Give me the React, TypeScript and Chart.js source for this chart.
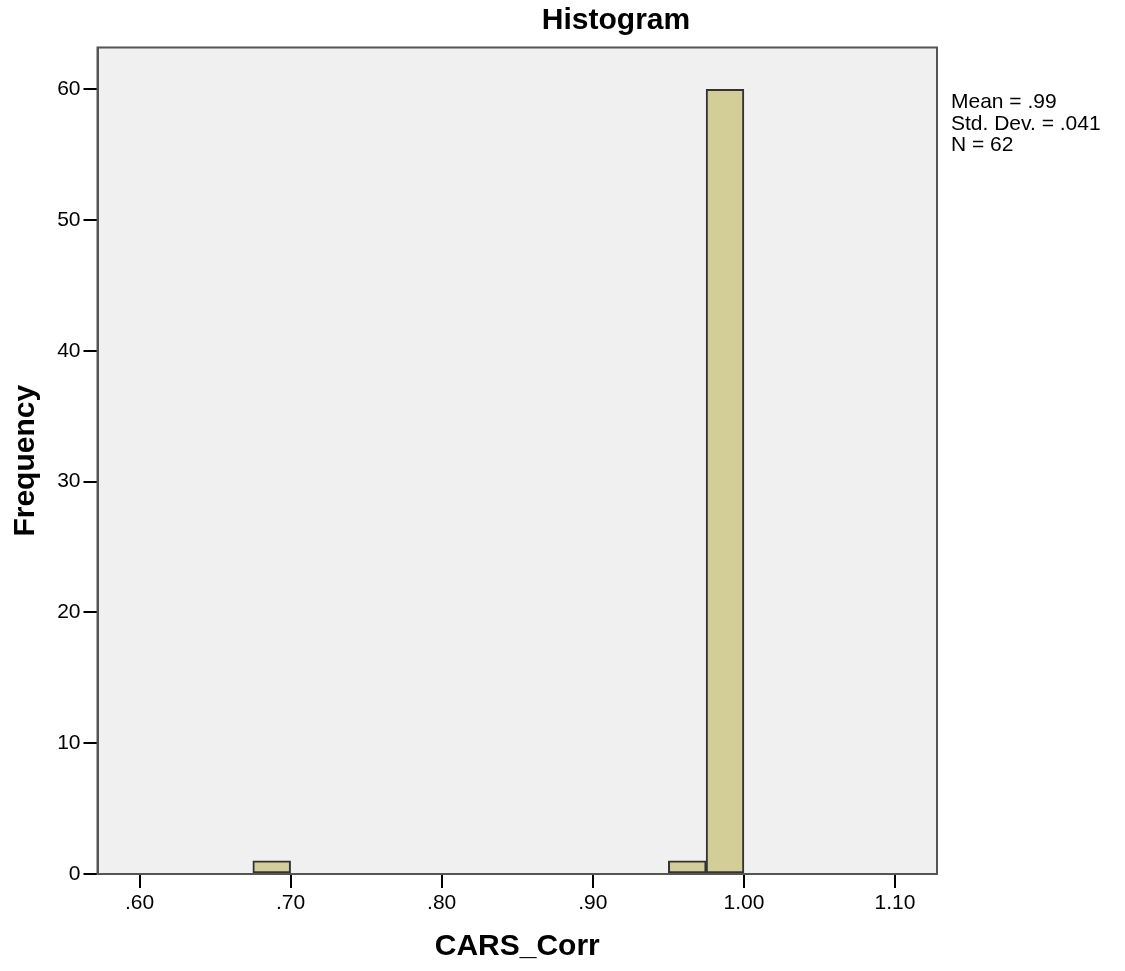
import React, { useEffect, useRef } from "react";
import { Chart, registerables } from "chart.js";

Chart.register(...registerables);

const chartTitle = "Histogram";
const xAxisTitle = "CARS_Corr";
const yAxisTitle = "Frequency";
const binCenters = [0.6875, 0.9625, 0.9875];
const binCounts = [1, 1, 60];
const xTickValues = [0.6, 0.7, 0.8, 0.9, 1.0, 1.1];
const xTickLabels = [".60", ".70", ".80", ".90", "1.00", "1.10"];
const yTickValues = [0, 10, 20, 30, 40, 50, 60];
const statsLines = ["Mean = .99", "Std. Dev. = .041", "N = 62"];

const FONT = "'Liberation Sans', Arial, sans-serif";

const framePlugin = {
  id: "spssFrame",
  beforeDraw(chart: any) {
    const { ctx, chartArea } = chart;
    ctx.save();
    ctx.fillStyle = "#f0f0f0";
    ctx.fillRect(chartArea.left, chartArea.top, chartArea.right - chartArea.left, chartArea.bottom - chartArea.top);
    ctx.restore();
  },
  afterDraw(chart: any) {
    const { ctx, chartArea } = chart;
    ctx.save();
    ctx.strokeStyle = "#555555";
    ctx.lineWidth = 2;
    ctx.strokeRect(chartArea.left, chartArea.top, chartArea.right - chartArea.left, chartArea.bottom - chartArea.top);
    // title
    ctx.fillStyle = "#000";
    ctx.font = `bold 30px ${FONT}`;
    ctx.textAlign = "center";
    ctx.textBaseline = "alphabetic";
    ctx.fillText(chartTitle, 616, 29);
    // stats
    ctx.font = `21px ${FONT}`;
    ctx.textAlign = "left";
    statsLines.forEach((line, i) => {
      ctx.fillText(line, chartArea.right + 14, 108 + i * 21.5);
    });
    ctx.restore();
  },
};

export default function App() {
  const canvasRef = useRef<HTMLCanvasElement | null>(null);

  useEffect(() => {
    if (!canvasRef.current) return;
    const chart = new Chart(canvasRef.current, {
      type: "bar",
      data: {
        datasets: [
          {
            data: binCenters.map((x, i) => ({ x, y: binCounts[i] })),
            backgroundColor: "#d3ce97",
            borderColor: "#333333",
            borderWidth: 2,
            borderSkipped: false,
            categoryPercentage: 1,
            barPercentage: 1,
          },
        ],
      },
      options: {
        animation: false,
        responsive: false,
        maintainAspectRatio: false,
        layout: { padding: { left: 0, right: 188, top: 47.5, bottom: 0 } },
        plugins: {
          legend: { display: false },
          tooltip: { enabled: false },
          title: { display: false },
        },
        scales: {
          x: {
            type: "linear",
            min: 0.5722,
            max: 1.1278,
            offset: false,
            afterBuildTicks: (scale: any) => {
              scale.ticks = xTickValues.map((v) => ({ value: v }));
            },
            afterFit: (scale: any) => {
              scale.height = 97;
            },
            ticks: {
              autoSkip: false,
              maxRotation: 0,
              color: "#000",
              font: { family: FONT, size: 21 },
              padding: 3,
              callback: (v: any) => {
                const idx = xTickValues.findIndex((t) => Math.abs(t - Number(v)) < 1e-6);
                return idx >= 0 ? xTickLabels[idx] : "";
              },
            },
            grid: {
              display: true,
              offset: false,
              drawOnChartArea: false,
              drawTicks: true,
              tickLength: 14,
              color: "#000",
              lineWidth: 2,
            },
            border: { display: true, color: "#555555", width: 2 },
            title: {
              display: true,
              text: xAxisTitle,
              color: "#000",
              font: { family: FONT, size: 30, weight: "bold" },
              padding: { top: 0, bottom: 6.5 },
            },
          },
          y: {
            type: "linear",
            min: 0,
            max: 63.2,
            afterBuildTicks: (scale: any) => {
              scale.ticks = yTickValues.map((v) => ({ value: v }));
            },
            afterFit: (scale: any) => {
              scale.width = 97.5;
            },
            ticks: {
              autoSkip: false,
              color: "#000",
              font: { family: FONT, size: 21 },
              padding: 3,
              callback: (v: any) => String(v),
            },
            grid: {
              display: true,
              drawOnChartArea: false,
              drawTicks: true,
              tickLength: 14,
              color: "#000",
              lineWidth: 2,
            },
            border: { display: true, color: "#555555", width: 2 },
            title: {
              display: true,
              text: yAxisTitle,
              color: "#000",
              font: { family: FONT, size: 30, weight: "bold" },
              padding: { top: 8, bottom: 0 },
            },
          },
        },
      },
      plugins: [framePlugin],
    } as any);
    return () => chart.destroy();
  }, []);

  return (
    <div style={{ position: "fixed", left: 0, top: 0, width: 1125, height: 971, background: "#fff" }}>
      <canvas ref={canvasRef} width={1125} height={971} style={{ width: 1125, height: 971, display: "block" }} />
    </div>
  );
}
